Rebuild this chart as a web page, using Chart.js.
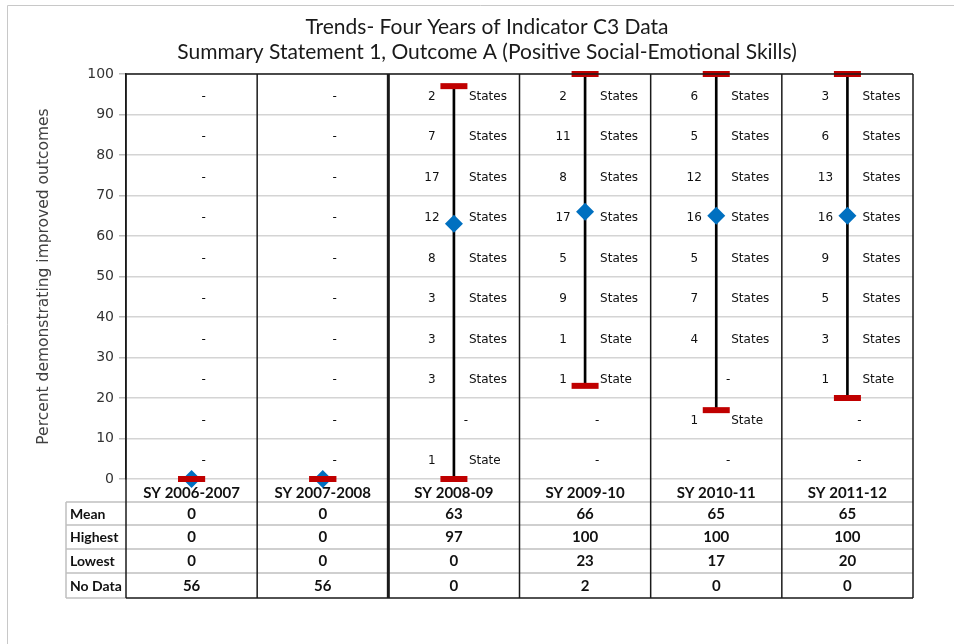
<!DOCTYPE html>
<html>
<head>
<meta charset="utf-8">
<script src="https://cdn.jsdelivr.net/npm/chart.js@4"></script>
<style>
  body { margin: 0; background: #fff; }
  canvas { display: block; }
</style>
</head>
<body>
<canvas id="c3" width="954" height="644"></canvas>
<script>
// school years along the x axis
const categories = ['SY 2006-2007', 'SY 2007-2008', 'SY 2008-09', 'SY 2009-10', 'SY 2010-11', 'SY 2011-12'];
const meanValues = [0, 0, 63, 66, 65, 65];
const highestValues = [0, 0, 97, 100, 100, 100];
const lowestValues = [0, 0, 0, 23, 17, 20];
const noDataCounts = [56, 56, 0, 2, 0, 0];

// number of states in each 10-point band (95 = 90-100 ... 5 = 0-10), null = "-"
const bandCenters = [95, 85, 75, 65, 55, 45, 35, 25, 15, 5];
const states0607 = [null, null, null, null, null, null, null, null, null, null];
const states0708 = [null, null, null, null, null, null, null, null, null, null];
const states0809 = [2, 7, 17, 12, 8, 3, 3, 3, null, 1];
const states0910 = [2, 11, 8, 17, 5, 9, 1, 1, null, null];
const states1011 = [6, 5, 12, 16, 5, 7, 4, null, 1, null];
const states1112 = [3, 6, 13, 16, 9, 5, 3, 1, null, null];
const stateCounts = [states0607, states0708, states0809, states0910, states1011, states1112];

const titleLines = ['Trends- Four Years of Indicator C3 Data',
  'Summary Statement 1, Outcome A (Positive Social-Emotional Skills)'];
const tableRows = [['Mean', meanValues], ['Highest', highestValues], ['Lowest', lowestValues], ['No Data', noDataCounts]];

const RED = '#C00000';
const BLUE = '#0070C0';

const overlay = {
  id: 'overlay',
  beforeDatasetsDraw(chart) {
    const { ctx, scales: { x, y } } = chart;
    ctx.save();

    // band annotations
    ctx.font = '12px "DejaVu Sans"';
    ctx.fillStyle = '#111';
    ctx.textBaseline = 'middle';
    stateCounts.forEach((col, i) => {
      const cx = x.getPixelForValue(i);
      col.forEach((n, j) => {
        const py = y.getPixelForValue(bandCenters[j]) + 2.5;
        if (n === null) {
          ctx.textAlign = 'center';
          ctx.fillText('-', cx + 12, py);
        } else {
          ctx.textAlign = 'center';
          ctx.fillText(String(n), cx - 22, py);
          ctx.textAlign = 'left';
          ctx.fillText(n === 1 ? 'State' : 'States', cx + 15, py);
        }
      });
    });
    ctx.restore();
  },
  afterDraw(chart) {
    const { ctx, chartArea: a, scales: { x } } = chart;
    const rowTop = [502, 525, 549, 573];
    const tableBottom = 598;
    const headLeft = 66;
    ctx.save();

    // title
    ctx.fillStyle = '#1a1a1a';
    ctx.font = '21px Lato';
    ctx.textAlign = 'center';
    ctx.textBaseline = 'middle';
    ctx.fillText(titleLines[0], 487, 27.5);
    ctx.fillText(titleLines[1], 487, 52);

    // outer light frame
    ctx.strokeStyle = '#c8c8c8';
    ctx.lineWidth = 1;
    ctx.beginPath();
    ctx.moveTo(7.5, 644); ctx.lineTo(7.5, 5.5); ctx.lineTo(954, 5.5);
    ctx.stroke();

    // gray table lines
    ctx.strokeStyle = '#c0c0c0';
    ctx.lineWidth = 1.5;
    ctx.beginPath();
    rowTop.forEach(ry => { ctx.moveTo(headLeft, ry); ctx.lineTo(a.right, ry); });
    ctx.moveTo(headLeft, tableBottom); ctx.lineTo(a.left, tableBottom);
    ctx.moveTo(headLeft, rowTop[0]); ctx.lineTo(headLeft, tableBottom);
    ctx.stroke();

    // dark frame + column dividers
    ctx.strokeStyle = '#1a1a1a';
    ctx.lineWidth = 1.5;
    ctx.beginPath();
    ctx.moveTo(a.left, a.top); ctx.lineTo(a.right, a.top);
    ctx.moveTo(a.left, tableBottom); ctx.lineTo(a.right, tableBottom);
    ctx.stroke();
    for (let i = 0; i <= categories.length; i++) {
      let bx;
      if (i === 0) bx = a.left;
      else if (i === categories.length) bx = a.right;
      else bx = (x.getPixelForValue(i - 1) + x.getPixelForValue(i)) / 2;
      ctx.lineWidth = i === 2 ? 3 : 1.5;
      ctx.beginPath();
      ctx.moveTo(bx, a.top);
      ctx.lineTo(bx, tableBottom);
      ctx.stroke();
    }

    // table text
    ctx.fillStyle = '#111';
    ctx.textBaseline = 'middle';
    tableRows.forEach(([name, vals], r) => {
      const top = rowTop[r];
      const bottom = r < rowTop.length - 1 ? rowTop[r + 1] : tableBottom;
      const cy = (top + bottom) / 2 + 0.5;
      ctx.font = 'bold 14px Lato';
      ctx.textAlign = 'left';
      ctx.fillText(name, headLeft + 4, cy);
      ctx.font = 'bold 15px Lato';
      ctx.textAlign = 'center';
      vals.forEach((v, i) => ctx.fillText(String(v), x.getPixelForValue(i), cy));
    });
    ctx.restore();
  }
};

new Chart(document.getElementById('c3'), {
  type: 'bar',
  data: {
    labels: categories,
    datasets: [
      {
        type: 'line', label: 'Highest', data: highestValues, showLine: false, clip: false, order: 0,
        pointStyle: 'line', pointRadius: 13.5, pointBorderWidth: 6, pointBorderColor: RED, pointBackgroundColor: RED
      },
      {
        type: 'line', label: 'Lowest', data: lowestValues, showLine: false, clip: false, order: 0,
        pointStyle: 'line', pointRadius: 13.5, pointBorderWidth: 6, pointBorderColor: RED, pointBackgroundColor: RED
      },
      {
        type: 'line', label: 'Mean', data: meanValues, showLine: false, clip: false, order: 1,
        pointStyle: 'rectRot', pointRadius: 9, pointBorderWidth: 0, pointBackgroundColor: BLUE, pointBorderColor: BLUE
      },
      {
        label: 'Range', data: lowestValues.map((lo, i) => [lo, highestValues[i]]), order: 2,
        backgroundColor: '#000', barThickness: 2, borderSkipped: false
      }
    ]
  },
  options: {
    responsive: false,
    animation: false,
    layout: { padding: { left: 28, right: 41, top: 74, bottom: 142 } },
    plugins: { legend: { display: false }, tooltip: { enabled: false }, title: { display: false } },
    scales: {
      x: {
        grid: { display: false },
        border: { display: false },
        ticks: { color: '#111', font: { family: 'Lato', size: 15, weight: 'bold' }, padding: -3, maxRotation: 0 },
        afterFit(scale) { scale.height = 23; }
      },
      y: {
        min: 0, max: 100,
        ticks: { stepSize: 10, color: '#333', font: { family: 'DejaVu Sans', size: 14 }, padding: 5 },
        grid: { color: '#d4d4d4', lineWidth: 1.5, tickLength: 7, tickColor: '#bbb' },
        border: { display: true, color: '#1a1a1a', width: 1.5 },
        title: { display: true, text: 'Percent demonstrating improved outcomes', color: '#404040',
                 font: { family: 'DejaVu Sans', size: 15.5 }, padding: { top: 7, bottom: 0 } },
        afterFit(scale) { scale.width = 98; }
      }
    }
  },
  plugins: [overlay]
});
</script>
</body>
</html>
